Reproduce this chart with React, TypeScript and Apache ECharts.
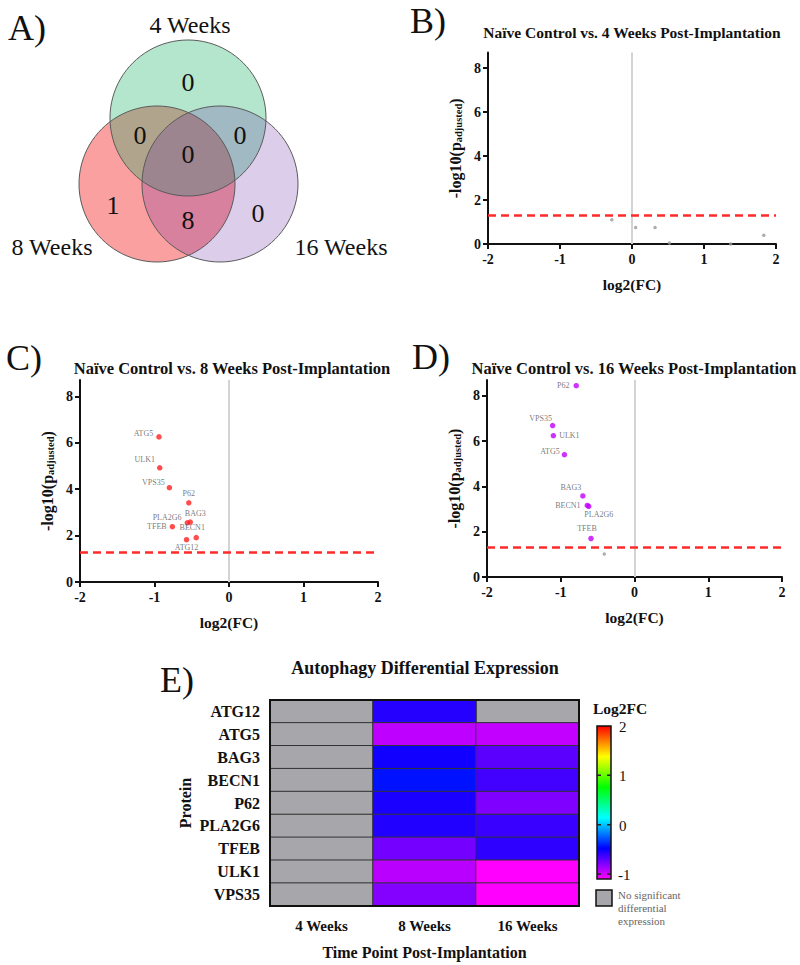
import React, { useEffect, useRef } from "react";
import * as echarts from "echarts";

const SERIF = '"Liberation Serif", "Times New Roman", Times, serif';

// ---------- data ----------
const proteins = ["ATG12", "ATG5", "BAG3", "BECN1", "P62", "PLA2G6", "TFEB", "ULK1", "VPS35"];
const timePoints = ["4 Weeks", "8 Weeks", "16 Weeks"];

// 4 weeks: visible (non-significant) points
const fc4 = [-0.28, 0.05, 0.32, 0.52, 1.37, 1.83];
const p4 = [1.1, 0.75, 0.75, 0.05, 0.0, 0.4];

// 8 weeks, per protein (same order as proteins)
const fc8 = [-0.57, -0.94, -0.52, -0.44, -0.54, -0.56, -0.76, -0.93, -0.8];
const p8 = [1.82, 6.25, 2.58, 1.91, 3.41, 2.55, 2.38, 4.92, 4.06];

// 16 weeks, per protein
const fc16 = [-0.41, -0.95, -0.7, -0.64, -0.79, -0.62, -0.59, -1.1, -1.11];
const p16 = [1.02, 5.4, 3.58, 3.16, 8.45, 3.12, 1.7, 6.24, 6.69];

const threshold = 1.3; // -log10(0.05)
const yTickValues = [0, 2, 4, 6, 8];

// Venn
const vennSets = ["4 Weeks", "8 Weeks", "16 Weeks"];
const vennRegions = ["4 only", "4&8", "4&16", "4&8&16", "8 only", "8&16", "16 only"];
const vennCounts = [0, 0, 0, 0, 1, 8, 0];

// colour scale
const cbMin = -1.1;
const cbMax = 2;
const cbTickValues = [2, 1, 0, -1];
const cbColors = ["#ff00ff", "#8000ff", "#0000ff", "#0080ff", "#00ffff", "#00ff80", "#00ff00", "#80ff00", "#ffff00", "#ff8000", "#ff0000"];

// ---------- styles / layout ----------
const INK = "#111";
const GRAY_CELL = "#a7a6aa";
// drawn in this order: 8 Weeks (left), 4 Weeks (top), 16 Weeks (right)
const vennCircles = [
  { cx: 157, cy: 184, r: 78, fill: "rgba(242,17,17,0.4)" },
  { cx: 188, cy: 118, r: 78, fill: "rgba(21,177,99,0.32)" },
  { cx: 220, cy: 184, r: 78, fill: "rgba(80,5,155,0.2)" },
];
const vennSetPos = [[190, 25], [52, 247], [341, 247]];
const vennRegionPos = [[188, 82], [140, 135], [240, 135], [188, 154], [113, 205], [188, 220], [258, 213]];

const labelC: Record<string, any> = {
  ATG5: { position: "left", distance: 3, offset: [0, -3] },
  ULK1: { position: "left", distance: 2, offset: [0, -8] },
  VPS35: { position: "left", distance: 2, offset: [0, -5] },
  P62: { position: "top", distance: 3 },
  BAG3: { position: "top", distance: 2, offset: [5, 0] },
  PLA2G6: { position: "left", distance: 3, offset: [0, -5] },
  TFEB: { position: "left", distance: 3 },
  BECN1: { position: "top", distance: 3, offset: [-4, 0] },
  ATG12: { position: "bottom", distance: 1 },
};
const labelD: Record<string, any> = {
  P62: { position: "left", distance: 4 },
  VPS35: { position: "left", distance: 2, offset: [4, -7] },
  ULK1: { position: "right", distance: 3 },
  ATG5: { position: "left", distance: 2, offset: [0, -3] },
  BAG3: { position: "top", distance: 2, offset: [-12, 0] },
  BECN1: { position: "left", distance: 4 },
  PLA2G6: { position: "bottom", distance: 1, offset: [10, 0] },
  TFEB: { position: "top", distance: 3, offset: [-4, 0] },
};

function xAxisV(gridIndex: number) {
  return {
    type: "value",
    gridIndex,
    min: -2,
    max: 2,
    interval: 1,
    name: "log2(FC)",
    nameLocation: "middle",
    nameGap: 32,
    nameTextStyle: { fontFamily: SERIF, fontWeight: "bold", fontSize: 15.5, color: INK },
    axisLine: { onZero: false, lineStyle: { color: INK, width: 2 } },
    axisTick: { length: 5, lineStyle: { color: INK, width: 2 } },
    axisLabel: { fontFamily: SERIF, fontWeight: "bold", fontSize: 14, color: INK, margin: 8 },
    splitLine: { show: false },
  };
}
function yAxisV(gridIndex: number) {
  return {
    type: "value",
    gridIndex,
    min: 0,
    max: 8.7,
    interval: 2,
    name: "-log10(p{sub|adjusted})",
    nameLocation: "middle",
    nameRotate: 90,
    nameGap: 24,
    nameTextStyle: {
      fontFamily: SERIF,
      fontWeight: "bold",
      fontSize: 16,
      color: INK,
      rich: { sub: { fontFamily: SERIF, fontWeight: "bold", fontSize: 10.5, color: INK, padding: [6, 0, 0, 0] } },
    },
    axisLine: { onZero: false, lineStyle: { color: INK, width: 2 } },
    axisTick: { length: 5, customValues: yTickValues, lineStyle: { color: INK, width: 2 } },
    axisLabel: { customValues: yTickValues, fontFamily: SERIF, fontWeight: "bold", fontSize: 14, color: INK, margin: 7 },
    splitLine: { show: false },
  };
}

function refLines() {
  return {
    silent: true,
    symbol: ["none", "none"],
    label: { show: false },
    emphasis: { disabled: true },
    data: [
      { xAxis: 0, lineStyle: { color: "#d3d3d3", width: 2, type: "solid" } },
      { yAxis: threshold, lineStyle: { color: "#ff2a2a", width: 2.5, type: [8, 5] } },
    ],
  };
}

const ptLabelStyle = { fontFamily: SERIF, fontSize: 8, color: "#555" };

function sigPoints(fc: number[], p: number[], labels: Record<string, any>) {
  return proteins
    .map((name, i) => ({ name, i }))
    .filter(({ i }) => p[i] > threshold)
    .map(({ name, i }) => ({
      name,
      value: [fc[i], p[i]],
      label: { show: true, formatter: name, ...ptLabelStyle, ...(labels[name] || {}) },
    }));
}
function nonSigPoints(fc: number[], p: number[]) {
  return proteins.map((_, i) => i).filter((i) => p[i] <= threshold).map((i) => [fc[i], p[i]]);
}

function buildOption() {
  const heatGray: any[] = [];
  const heatVals: any[] = [];
  proteins.forEach((_, r) => {
    heatGray.push([0, r, 0]);
    if (p8[r] > threshold) heatVals.push([1, r, fc8[r]]);
    else heatGray.push([1, r, 0]);
    if (p16[r] > threshold) heatVals.push([2, r, fc16[r]]);
    else heatGray.push([2, r, 0]);
  });

  const cb = { x: 597, y: 726, w: 14, h: 153 };
  const cbY = (v: number) => cb.y + ((cbMax - v) / (cbMax - cbMin)) * cb.h;
  const n = cbColors.length;
  const gradient = new echarts.graphic.LinearGradient(
    0, 0, 0, 1,
    cbColors.map((_, i) => ({ offset: i / (n - 1), color: cbColors[n - 1 - i] }))
  );

  // texts are drawn with title components (they honour fontFamily)
  const titles: any[] = [];
  const txt = (
    text: string,
    x: number,
    y: number,
    fontSize: number,
    bold = false,
    align = "center",
    fill = INK
  ) =>
    titles.push({
      text,
      left: x,
      top: y,
      padding: 0,
      itemGap: 0,
      textAlign: align,
      textVerticalAlign: "middle",
      z: 50,
      textStyle: { fontFamily: SERIF, fontSize, fontWeight: bold ? "bold" : "normal", color: fill },
    });

  const graphics: any[] = [];
  vennCircles.forEach((c) =>
    graphics.push({ type: "circle", shape: { cx: c.cx, cy: c.cy, r: c.r }, style: { fill: c.fill }, silent: true, z: 1 })
  );
  vennCircles.forEach((c) =>
    graphics.push({ type: "circle", shape: { cx: c.cx, cy: c.cy, r: c.r }, style: { fill: "none", stroke: "#5a5a5a", lineWidth: 1 }, silent: true, z: 2 })
  );
  vennSets.forEach((s, i) => txt(s, vennSetPos[i][0], vennSetPos[i][1], 24));
  vennRegions.forEach((_, i) => txt(String(vennCounts[i]), vennRegionPos[i][0], vennRegionPos[i][1], 26));

  txt("A)", 8, 28, 36, false, "left");
  txt("B)", 410, 21, 36, false, "left");
  txt("C)", 6, 358, 36, false, "left");
  txt("D)", 412, 357, 36, false, "left");
  txt("E)", 160, 680, 36, false, "left");

  txt("Naïve Control vs. 4 Weeks Post-Implantation", 632, 32, 15.5, true);
  txt("Naïve Control vs. 8 Weeks Post-Implantation", 232, 368, 16.5, true);
  txt("Naïve Control vs. 16 Weeks Post-Implantation", 634, 368, 16.5, true);
  txt("Autophagy Differential Expression", 425, 668, 18, true);

  graphics.push({ type: "rect", shape: { x: 270, y: 700, width: 309, height: 206 }, style: { fill: "none", stroke: INK, lineWidth: 2 }, z: 100, silent: true });

  txt("Log2FC", 620, 708, 15.5, true);
  graphics.push({ type: "rect", shape: { x: cb.x, y: cb.y, width: cb.w, height: cb.h }, style: { fill: gradient, stroke: INK, lineWidth: 1.5 }, z: 50, silent: true });
  cbTickValues.forEach((v) => {
    const y = cbY(v);
    if (v !== cbMax) {
      graphics.push({ type: "line", shape: { x1: cb.x, y1: y, x2: cb.x + cb.w, y2: y }, style: { stroke: "#222", lineWidth: 1.5, lineDash: [4, 6] }, z: 51, silent: true });
    }
    txt(String(v), v < 0 ? 618 : 619, y + 1, 15, false, "left");
  });
  graphics.push({ type: "rect", shape: { x: 596, y: 890, width: 16, height: 16 }, style: { fill: GRAY_CELL, stroke: INK, lineWidth: 1.5 }, z: 50, silent: true });
  txt("No significant", 618, 895, 11, false, "left", "#666");
  txt("differential", 618, 908, 11, false, "left", "#666");
  txt("expression", 618, 921, 11, false, "left", "#666");

  return {
    animation: false,
    backgroundColor: "#fff",
    textStyle: { fontFamily: SERIF },
    title: titles,
    grid: [
      { left: 488, top: 52.6, width: 288, height: 191.4 },
      { left: 80, top: 380, width: 298, height: 202 },
      { left: 487, top: 380, width: 295, height: 197 },
      { left: 270, top: 700, width: 309, height: 206 },
    ],
    xAxis: [
      xAxisV(0),
      xAxisV(1),
      xAxisV(2),
      {
        type: "category",
        gridIndex: 3,
        data: timePoints,
        name: "Time Point Post-Implantation",
        nameLocation: "middle",
        nameGap: 38,
        nameTextStyle: { fontFamily: SERIF, fontWeight: "bold", fontSize: 16, color: INK },
        axisLine: { lineStyle: { color: INK, width: 2 } },
        axisTick: { alignWithLabel: true, length: 6, lineStyle: { color: INK, width: 2 } },
        axisLabel: { fontFamily: SERIF, fontWeight: "bold", fontSize: 15, color: INK, margin: 12 },
        splitLine: { show: false },
      },
    ],
    yAxis: [
      yAxisV(0),
      yAxisV(1),
      yAxisV(2),
      {
        type: "category",
        gridIndex: 3,
        data: proteins,
        inverse: true,
        name: "Protein",
        nameLocation: "middle",
        nameRotate: 90,
        nameGap: 77,
        nameTextStyle: { fontFamily: SERIF, fontWeight: "bold", fontSize: 16, color: INK },
        axisLine: { lineStyle: { color: INK, width: 2 } },
        axisTick: { alignWithLabel: true, length: 6, lineStyle: { color: INK, width: 2 } },
        axisLabel: { fontFamily: SERIF, fontWeight: "bold", fontSize: 16, color: INK, margin: 10 },
        splitLine: { show: false },
      },
    ],
    visualMap: [
      {
        show: false,
        type: "continuous",
        min: cbMin,
        max: cbMax,
        seriesIndex: 6,
        inRange: { color: cbColors },
      },
      {
        show: false,
        type: "continuous",
        min: -1,
        max: 1,
        seriesIndex: 5,
        inRange: { color: [GRAY_CELL, GRAY_CELL] },
      },
    ],
    series: [
      {
        type: "scatter",
        xAxisIndex: 0,
        yAxisIndex: 0,
        symbolSize: 3.5,
        itemStyle: { color: "#9a9a9a" },
        data: fc4.map((x, i) => [x, p4[i]]),
        markLine: refLines(),
      },
      {
        type: "scatter",
        xAxisIndex: 1,
        yAxisIndex: 1,
        symbolSize: 5.5,
        itemStyle: { color: "#ff2020" },
        data: sigPoints(fc8, p8, labelC),
        markLine: refLines(),
        z: 5,
      },
      {
        type: "scatter",
        xAxisIndex: 1,
        yAxisIndex: 1,
        symbolSize: 3.5,
        itemStyle: { color: "#9a9a9a" },
        data: nonSigPoints(fc8, p8),
      },
      {
        type: "scatter",
        xAxisIndex: 2,
        yAxisIndex: 2,
        symbolSize: 5.5,
        itemStyle: { color: "#c000ff" },
        data: sigPoints(fc16, p16, labelD),
        markLine: refLines(),
        z: 5,
      },
      {
        type: "scatter",
        xAxisIndex: 2,
        yAxisIndex: 2,
        symbolSize: 3.5,
        itemStyle: { color: "#9a9a9a" },
        data: nonSigPoints(fc16, p16),
      },
      {
        type: "heatmap",
        xAxisIndex: 3,
        yAxisIndex: 3,
        data: heatGray,
        itemStyle: { borderColor: "#333", borderWidth: 1 },
        emphasis: { disabled: true },
      },
      {
        type: "heatmap",
        xAxisIndex: 3,
        yAxisIndex: 3,
        data: heatVals,
        itemStyle: { borderColor: "#333", borderWidth: 1 },
        emphasis: { disabled: true },
      },
    ],
    graphic: graphics,
  };
}

export default function App() {
  const ref = useRef<HTMLDivElement>(null);
  useEffect(() => {
    if (!ref.current) return;
    const chart = echarts.init(ref.current, null, { renderer: "svg" });
    chart.setOption(buildOption() as any);
    return () => chart.dispose();
  }, []);
  return (
    <div
      ref={ref}
      style={{ position: "absolute", left: 0, top: 0, width: 800, height: 965, background: "#fff" }}
    />
  );
}
